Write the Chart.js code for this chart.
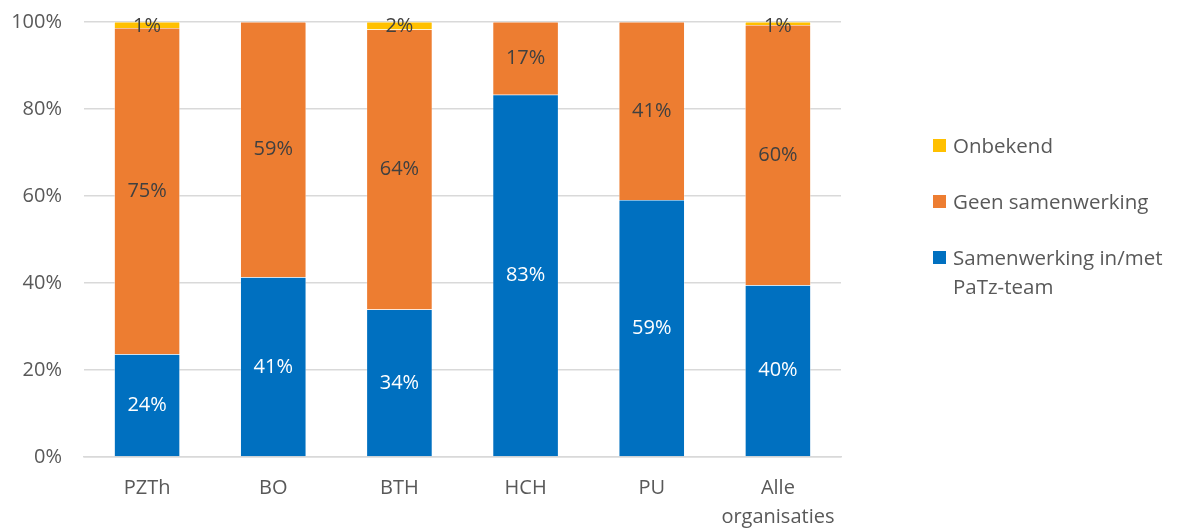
<!DOCTYPE html>
<html>
<head>
<meta charset="utf-8">
<script src="https://cdn.jsdelivr.net/npm/chart.js@4"></script>
<style>
  body { margin: 0; background: #fff; }
  #wrap { position: relative; width: 1178px; height: 529px; }
  #legend { position: absolute; left: 933px; top: 131px; font-family: "Open Sans", sans-serif; font-size: 20.5px; color: #595959; }
  .item { position: relative; padding-left: 20px; line-height: 29px; margin-bottom: 27px; }
  .box { position: absolute; left: 0; top: 8px; width: 13px; height: 13px; }
</style>
</head>
<body>
<div id="wrap">
  <canvas id="grafico" width="1178" height="529"></canvas>
  <div id="legend"></div>
</div>
<script>
var categorias = ['PZTh', 'BO', 'BTH', 'HCH', 'PU', ['Alle', 'organisaties']];
var samenwerking = [23.6, 41.3, 33.9, 83.3, 59.1, 39.5];
var geenSamenwerking = [75.0, 58.7, 64.4, 16.7, 40.9, 59.8];
var onbekend = [1.4, 0, 1.7, 0, 0, 0.7];
var yTicks = [0, 20, 40, 60, 80, 100];

var series = [
    { label: 'Samenwerking in/met PaTz-team', lines: ['Samenwerking in/met', 'PaTz-team'], data: samenwerking, color: '#0070C0', text: '#ffffff' },
    { label: 'Geen samenwerking', lines: ['Geen samenwerking'], data: geenSamenwerking, color: '#ED7D31', text: '#404040' },
    { label: 'Onbekend', lines: ['Onbekend'], data: onbekend, color: '#FFC000', text: '#404040' }
];

// legenda (omgekeerde volgorde, zoals in Excel)
var legendHtml = '';
series.slice().reverse().forEach(function (s) {
    legendHtml += '<div class="item"><span class="box" style="background:' + s.color + '"></span>' + s.lines.join('<br>') + '</div>';
});
document.getElementById('legend').innerHTML = legendHtml;

// labels op de balken
var labelPlugin = {
    id: 'balkLabels',
    afterDatasetsDraw: function (chart) {
        var ctx = chart.ctx;
        ctx.save();
        ctx.font = '20px "Open Sans", sans-serif';
        ctx.textAlign = 'center';
        ctx.textBaseline = 'middle';
        chart.data.datasets.forEach(function (ds, i) {
            var meta = chart.getDatasetMeta(i);
            meta.data.forEach(function (bar, j) {
                var v = ds.data[j];
                if (!v) return;
                var y = (bar.y + bar.base) / 2;
                if (i === 2) y = bar.y + 4;
                ctx.fillStyle = series[i].text;
                ctx.fillText(Math.round(v) + '%', bar.x, y);
            });
        });
        ctx.restore();
    }
};

var ctx = document.getElementById('grafico').getContext('2d');
new Chart(ctx, {
    type: 'bar',
    data: {
        labels: categorias,
        datasets: series.map(function (s) {
            return {
                label: s.label,
                data: s.data,
                backgroundColor: s.color,
                borderColor: '#ffffff',
                borderWidth: 0.5,
                barPercentage: 0.52,
                categoryPercentage: 1
            };
        })
    },
    plugins: [labelPlugin],
    options: {
        responsive: false,
        animation: false,
        layout: { padding: { top: 22, right: 337, left: 0, bottom: 0 } },
        plugins: {
            legend: { display: false },
            tooltip: { enabled: false }
        },
        scales: {
            x: {
                stacked: true,
                afterFit: function (axis) { axis.height = 72; },
                grid: { display: false },
                border: { color: '#d9d9d9', width: 1.5 },
                ticks: {
                    color: '#595959',
                    font: { family: '"Open Sans", sans-serif', size: 20, lineHeight: 1.45 },
                    padding: 9,
                    maxRotation: 0
                }
            },
            y: {
                stacked: true,
                min: 0,
                max: 100,
                afterFit: function (axis) {
                    axis.width = 84;
                    axis.paddingTop = 0;
                    axis.paddingBottom = 0;
                },
                afterBuildTicks: function (axis) {
                    axis.ticks = yTicks.map(function (v) { return { value: v }; });
                },
                grid: { color: '#d9d9d9', lineWidth: 1.5, drawTicks: false },
                border: { display: false },
                ticks: {
                    color: '#595959',
                    font: { family: '"Open Sans", sans-serif', size: 20 },
                    padding: 22,
                    callback: function (v) { return v + '%'; }
                }
            }
        }
    }
});
</script>
</body>
</html>
